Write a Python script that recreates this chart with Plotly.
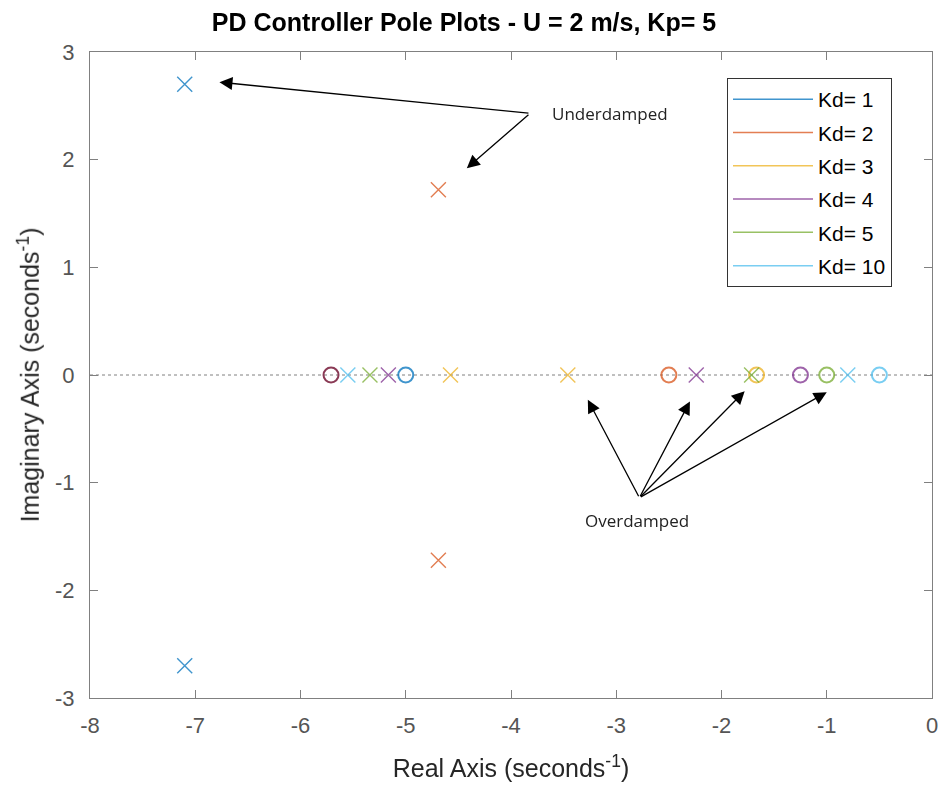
import plotly.graph_objects as go

# ---- data ----
kd_values = [1, 2, 3, 4, 5, 10]
series_names = ["Kd= 1", "Kd= 2", "Kd= 3", "Kd= 4", "Kd= 5", "Kd= 10"]
colors = ["#0072BD", "#D95319", "#EDB120", "#7E2F8E", "#77AC30", "#4DBEEE"]
pole_re = [[-7.1, -7.1], [-4.69, -4.69], [-4.575, -3.46], [-5.165, -2.24], [-5.34, -1.714], [-5.55, -0.80]]
pole_im = [[2.70, -2.70], [1.72, -1.72], [0, 0], [0, 0], [0, 0], [0, 0]]
zero_re = [-5.0, -2.5, -1.667, -1.25, -1.0, -0.5]
zero_im = [0, 0, 0, 0, 0, 0]
common_zero_re = [-5.71]
common_zero_im = [0]
x_ticks = [-8, -7, -6, -5, -4, -3, -2, -1, 0]
x_tick_text = ["-8", "-7", "-6", "-5", "-4", "-3", "-2", "-1", "0"]
y_ticks = [-3, -2, -1, 0, 1, 2, 3]
y_tick_text = ["-3", "-2", "-1", "0", "1", "2", "3"]

FONT = "Liberation Sans, Arial, sans-serif"
fig = go.Figure()

for i, name in enumerate(series_names):
    fig.add_trace(go.Scatter(
        x=pole_re[i], y=pole_im[i], mode="markers", showlegend=False,
        marker=dict(symbol="x-thin-open", size=15, color=colors[i],
                    line=dict(color=colors[i], width=1.4)),
        opacity=0.75, hoverinfo="skip"))
    fig.add_trace(go.Scatter(
        x=[zero_re[i]], y=[zero_im[i]], mode="markers", showlegend=False,
        marker=dict(symbol="circle-open", size=15, color=colors[i],
                    line=dict(color=colors[i], width=2)),
        opacity=0.75, hoverinfo="skip"))

fig.add_trace(go.Scatter(
    x=common_zero_re, y=common_zero_im, mode="markers", showlegend=False,
    marker=dict(symbol="circle-open", size=15, color="#8A3A55",
                line=dict(color="#8A3A55", width=2)),
    hoverinfo="skip"))

for i, name in enumerate(series_names):
    fig.add_trace(go.Scatter(
        x=[None], y=[None], mode="lines", name=name, legendgroup=name,
        line=dict(color=colors[i], width=1.5), opacity=0.75))

fig.add_shape(type="line", xref="paper", x0=0, x1=1, yref="y", y0=0, y1=0,
              line=dict(color="#808080", width=1, dash="dot"), layer="below")

ann_font = dict(family="Open Sans, Noto Sans, sans-serif", size=17, color="#222222")
arrow_style = dict(showarrow=True, arrowhead=2, arrowsize=2.0, arrowwidth=1.3,
                   arrowcolor="black", text="", xref="x", yref="y",
                   axref="x", ayref="y")
# Underdamped arrows
for hx, hy in [(-6.77, 2.72), (-4.42, 1.92)]:
    fig.add_annotation(x=hx, y=hy, ax=-3.82, ay=2.43, **arrow_style)
fig.add_annotation(x=-3.06, y=2.43, xref="x", yref="y", text="Underdamped",
                   showarrow=False, font=ann_font)
# Overdamped arrows
for hx, hy in [(-3.27, -0.23), (-2.30, -0.245), (-1.78, -0.15), (-1.0, -0.16)]:
    fig.add_annotation(x=hx, y=hy, ax=-2.78, ay=-1.14, **arrow_style)
fig.add_annotation(x=-2.80, y=-1.35, xref="x", yref="y", text="Overdamped",
                   showarrow=False, font=ann_font)

axis_common = dict(showline=True, linecolor="#808080", linewidth=1, mirror="allticks",
                   ticks="inside", ticklen=8, tickcolor="#808080", showgrid=False,
                   zeroline=False, automargin=False,
                   tickfont=dict(family=FONT, size=22, color="#555555"))

fig.update_layout(
    width=941, height=787,
    margin=dict(l=90, r=9, t=52, b=89),
    paper_bgcolor="white", plot_bgcolor="white",
    title=dict(text="<b>PD Controller Pole Plots - U = 2 m/s, Kp= 5</b>",
               x=464 / 941, xanchor="center", y=1 - 22 / 787, yanchor="middle",
               font=dict(family=FONT, size=25, color="black")),
    xaxis=dict(range=[-8, 0], tickvals=x_ticks, ticktext=x_tick_text,
               ticklabelstandoff=8,
               title=dict(text="Real Axis (seconds<sup>-1</sup>)", standoff=22,
                          font=dict(family=FONT, size=25, color="#262626")),
               **axis_common),
    yaxis=dict(range=[-3, 3], tickvals=y_ticks, ticktext=y_tick_text,
               ticklabelstandoff=10,
               title=dict(text="Imaginary Axis (seconds<sup>-1</sup>)", standoff=8,
                          font=dict(family=FONT, size=25, color="#262626")),
               **axis_common),
    legend=dict(x=(727 - 90) / 842, y=(698 - 78) / 646, xanchor="left", yanchor="top",
                bgcolor="white", bordercolor="#333333", borderwidth=1,
                font=dict(family=FONT, size=21, color="black"),
                itemwidth=80, tracegroupgap=3, traceorder="grouped"),
    showlegend=True,
)

fig.write_html("out.html")
